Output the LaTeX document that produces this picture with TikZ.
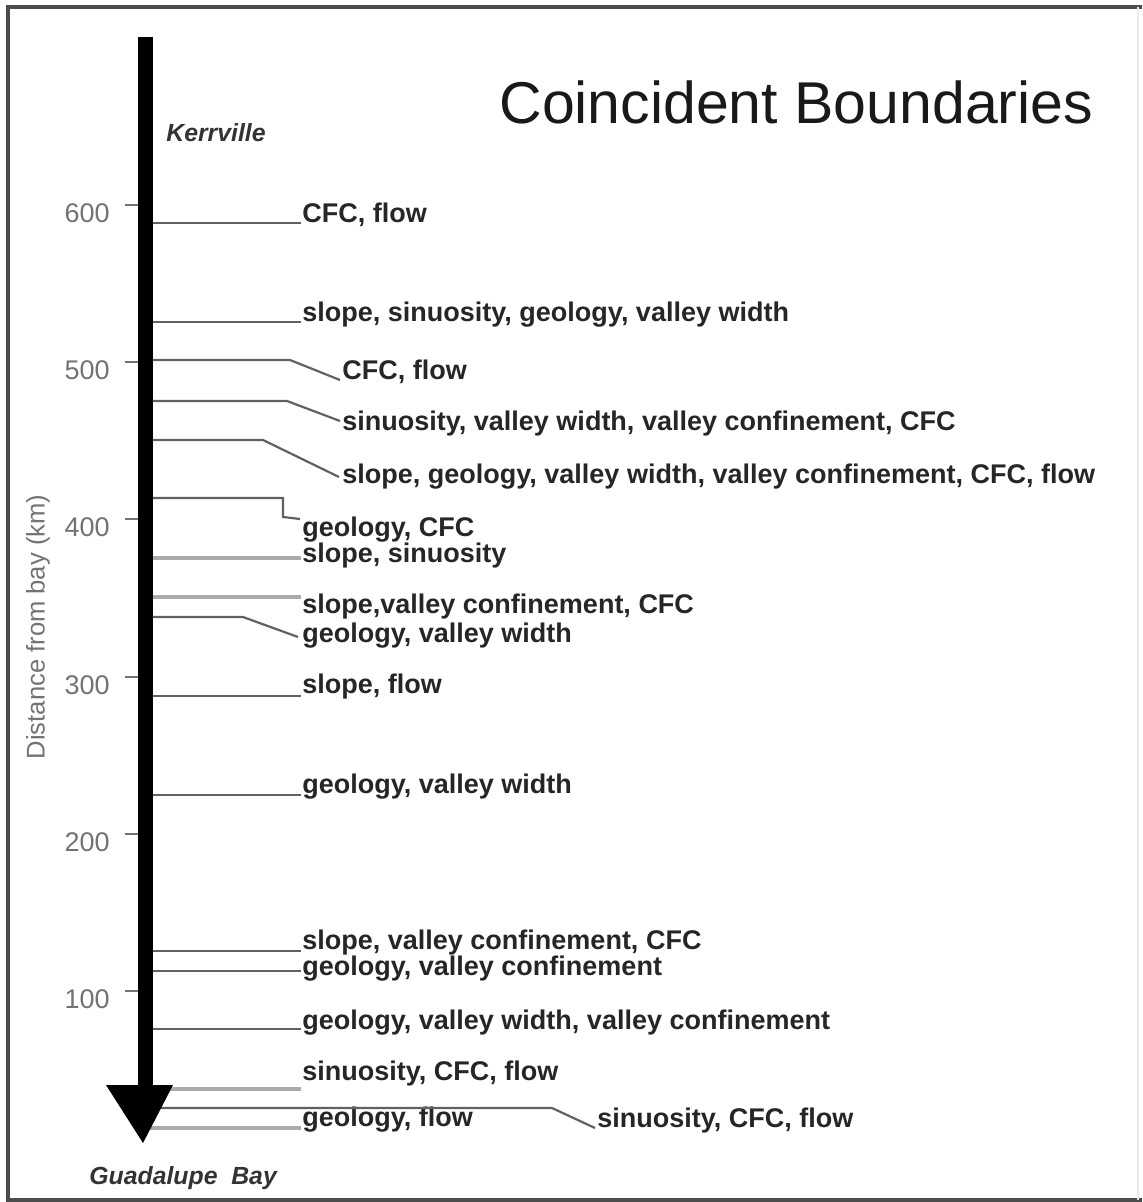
\documentclass[tikz,border=0pt]{standalone}
\usepackage{fontspec}
\setmainfont{Liberation Sans}
\begin{document}
\begin{tikzpicture}[x=0.5pt,y=-0.5pt,
  lbl/.style={anchor=base west,inner sep=0pt,font=\fontsize{13.5}{15}\selectfont\bfseries,text=black!85},
  ticklbl/.style={anchor=east,inner sep=0pt,font=\fontsize{13.5}{15}\selectfont,text=black!55},
  place/.style={anchor=west,inner sep=0pt,font=\fontsize{12.4}{14}\selectfont\bfseries\itshape,text=black!80},
  conn/.style={draw=black!62,line width=1.1pt},
  connlight/.style={draw=black!33,line width=2pt},
  tickmark/.style={draw=black!55,line width=0.9pt},
  frame/.style={draw=black!70,line width=1.6pt}]
\useasboundingbox (0,0) rectangle (1142,1202);
% frame
\draw[frame] (1142,7) -- (8,7) -- (8,1200) -- (1142,1200);
\draw[draw=black!8,line width=0.8pt] (1138,7) -- (1138,1200);
% title
\node[anchor=base west,inner sep=0pt,font=\fontsize{29.5}{32}\selectfont,text=black!90] (title) at (499,124) {Coincident Boundaries};
% axis label
\node[rotate=90,inner sep=0pt,font=\fontsize{12.8}{14}\selectfont,text=black!55] (axlbl) at (38,627) {Distance from bay (km)};
% ticks
\foreach \v/\y in {600/205,500/362,400/519,300/677,200/834,100/991}{
  \coordinate (t\v) at (125,\y);
  \coordinate (s\v) at (139,\y);
  \draw[tickmark] (t\v) -- (s\v);
  \node[ticklbl] (n\v) at (110,\y+8) {\v};
}
% place names
\node[place] (kerr) at (166,133) {Kerrville};
\node[place] (guad) at (89,1178) {Guadalupe\ \ Bay};
% labels
\node[lbl] (l1) at (302,223) {CFC, flow};
\node[lbl] (l2) at (302,322) {slope, sinuosity, geology, valley width};
\node[lbl] (l3) at (342,380) {CFC, flow};
\node[lbl] (l4) at (342,431) {sinuosity, valley width, valley confinement, CFC};
\node[lbl] (l5) at (342,483) {slope, geology, valley width, valley confinement, CFC, flow};
\node[lbl] (l6) at (302,536) {geology, CFC};
\node[lbl] (l7) at (302,562) {slope, sinuosity};
\node[lbl] (l8) at (302,613) {slope,valley confinement, CFC};
\node[lbl] (l9) at (302,642) {geology, valley width};
\node[lbl] (l10) at (302,693) {slope, flow};
\node[lbl] (l11) at (302,793) {geology, valley width};
\node[lbl] (l12) at (302,949) {slope, valley confinement, CFC};
\node[lbl] (l13) at (302,975) {geology, valley confinement};
\node[lbl] (l14) at (302,1029) {geology, valley width, valley confinement};
\node[lbl] (l15) at (302,1080) {sinuosity, CFC, flow};
\node[lbl] (l16) at (597,1127) {sinuosity, CFC, flow};
\node[lbl] (l17) at (302,1126) {geology, flow};
% connector coordinates
\coordinate (a1) at (146,223);  \coordinate (e1) at (301,223);
\coordinate (a2) at (146,322);  \coordinate (e2) at (301,322);
\coordinate (a3) at (146,360);  \coordinate (b3) at (290,360);  \coordinate (e3) at (340,380);
\coordinate (a4) at (146,401);  \coordinate (b4) at (287,401);  \coordinate (e4) at (340,421);
\coordinate (a5) at (146,440);  \coordinate (b5) at (263,440);  \coordinate (e5) at (339,477);
\coordinate (a6) at (146,498);  \coordinate (b6) at (283,498);  \coordinate (c6) at (283,517); \coordinate (e6) at (300,519);
\coordinate (a7) at (146,558);  \coordinate (e7) at (301,558);
\coordinate (a8) at (146,597);  \coordinate (e8) at (301,597);
\coordinate (a9) at (146,617);  \coordinate (b9) at (243,617);  \coordinate (e9) at (298,637);
\coordinate (a10) at (146,696); \coordinate (e10) at (301,696);
\coordinate (a11) at (146,795); \coordinate (e11) at (301,795);
\coordinate (a12) at (146,951); \coordinate (e12) at (301,951);
\coordinate (a13) at (146,971); \coordinate (e13) at (301,971);
\coordinate (a14) at (146,1029);\coordinate (e14) at (301,1029);
\coordinate (a15) at (146,1089);\coordinate (e15) at (301,1089);
\coordinate (a16) at (146,1108);\coordinate (b16) at (552,1108); \coordinate (e16) at (595,1128);
\coordinate (a17) at (146,1128);\coordinate (e17) at (301,1128);
% connectors
\draw[conn] (a1) -- (e1);
\draw[conn] (a2) -- (e2);
\draw[conn] (a3) -- (b3) -- (e3);
\draw[conn] (a4) -- (b4) -- (e4);
\draw[conn] (a5) -- (b5) -- (e5);
\draw[conn] (a6) -- (b6) -- (c6) -- (e6);
\draw[connlight] (a7) -- (e7);
\draw[connlight] (a8) -- (e8);
\draw[conn] (a9) -- (b9) -- (e9);
\draw[conn] (a10) -- (e10);
\draw[conn] (a11) -- (e11);
\draw[conn] (a12) -- (e12);
\draw[conn] (a13) -- (e13);
\draw[conn] (a14) -- (e14);
\draw[connlight] (a15) -- (e15);
\draw[conn] (a16) -- (b16) -- (e16);
\draw[connlight] (a17) -- (e17);
% main axis arrow
\coordinate (top) at (145.5,37);
\coordinate (base) at (145.5,1088);
\draw[line width=7.5pt,black] (top) -- (base);
\fill[black] (106,1085) -- (173,1085) -- (143,1143) -- cycle;
\end{tikzpicture}
\end{document}
